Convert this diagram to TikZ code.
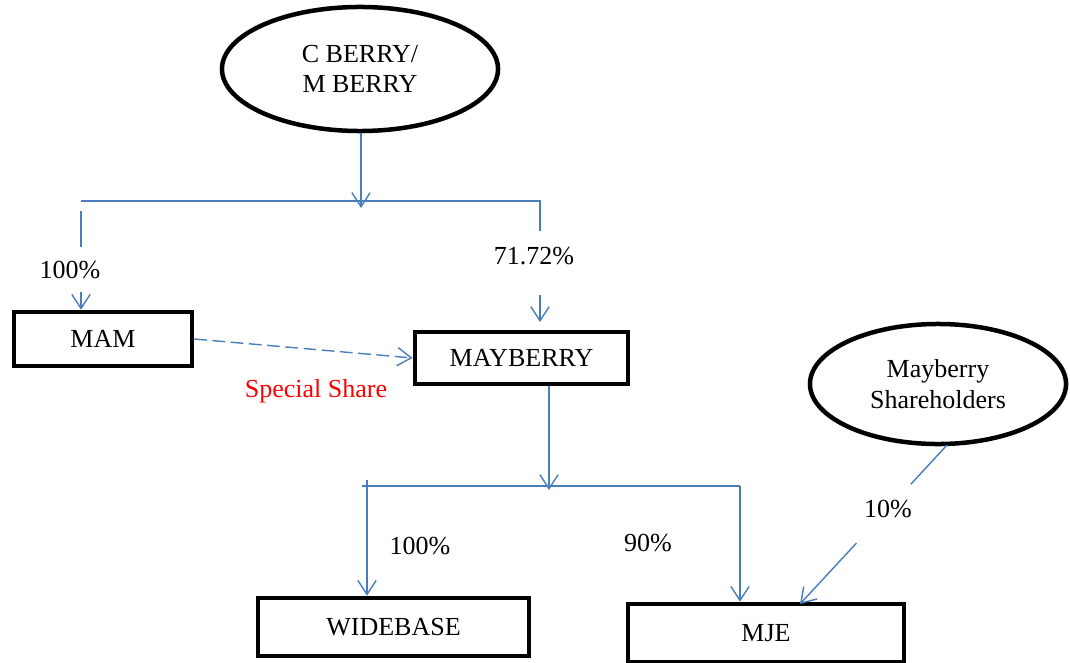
\documentclass[tikz,border=0pt]{standalone}
\usepackage{fontspec}
\setmainfont{Liberation Serif}
\usetikzlibrary{shapes.geometric,arrows.meta}
\definecolor{linkblue}{RGB}{74,126,187}
\begin{document}
\begin{tikzpicture}[x=0.025cm,y=-0.025cm,
    font=\fontsize{18.5}{21.5}\selectfont,
    owner/.style={draw,ellipse,line width=3.2pt,inner sep=0pt,align=center},
    company/.style={draw,rectangle,line width=3.2pt,inner sep=0pt},
    link/.style={draw=linkblue,line width=1pt},
    tip/.style={link,-{Straight Barb[length=10pt,width=13pt]}}]
    \useasboundingbox (0,0) rectangle (1070,663);
    % owners and companies
    \node[owner,minimum width=6.9cm,minimum height=3.1cm] (cberry) at (360,69) {C BERRY/\\M BERRY};
    \node[owner,minimum width=6.4cm,minimum height=3cm] (holders) at (938,384) {Mayberry\\Shareholders};
    \node[company,minimum width=4.45cm,minimum height=1.35cm] (mam) at (103,339) {MAM};
    \node[company,minimum width=5.33cm,minimum height=1.3cm] (mayberry) at (521.5,358) {MAYBERRY};
    \node[company,minimum width=6.78cm,minimum height=1.45cm] (widebase) at (393.5,627) {WIDEBASE};
    \node[company,minimum width=6.9cm,minimum height=1.45cm] (mje) at (766,633) {MJE};
    % percentages
    \node (pmam) at (70,270) {100\%};
    \node (pmay) at (534,256) {71.72\%};
    \node[text=red] (special) at (316,391) {Special Share};
    \node (pwide) at (420,546) {100\%};
    \node (pmje) at (648,543) {90\%};
    \node (phold) at (888,509) {10\%};
    % branch points
    \coordinate (topjoin) at (361,208);
    \coordinate (topleft) at (81,201);
    \coordinate (topright) at (540,201);
    \draw[tip] (cberry.south -| topjoin) -- (topjoin);
    \draw[link] (topleft) -- (topright) -- ++(0,30);
    \draw[link] (81,211) -- (81,247);
    \draw[tip] (81,292) -- (mam.north -| topleft);
    \draw[tip] (540,295) -- (540,322);
    \draw[tip,dashed,dash pattern=on 9pt off 4pt] (mam.east) -- (mayberry.west);
    \coordinate (lowjoin) at (549,490);
    \coordinate (lowleft) at (362,486);
    \coordinate (lowright) at (740,486);
    \draw[tip] (mayberry.south -| lowjoin) -- (lowjoin);
    \draw[link] (lowleft) -- (lowright);
    \draw[tip] (367,480) -- (widebase.north -| 367,0);
    \draw[tip] (lowright) -- (mje.north -| lowright);
    \coordinate (holdtail) at (947,445);
    \coordinate (holdtip) at (800,604);
    \draw[link,shorten >=24pt] (holdtail) -- (phold.center);
    \draw[tip,shorten <=33pt] (phold.center) -- (holdtip);
\end{tikzpicture}
\end{document}
